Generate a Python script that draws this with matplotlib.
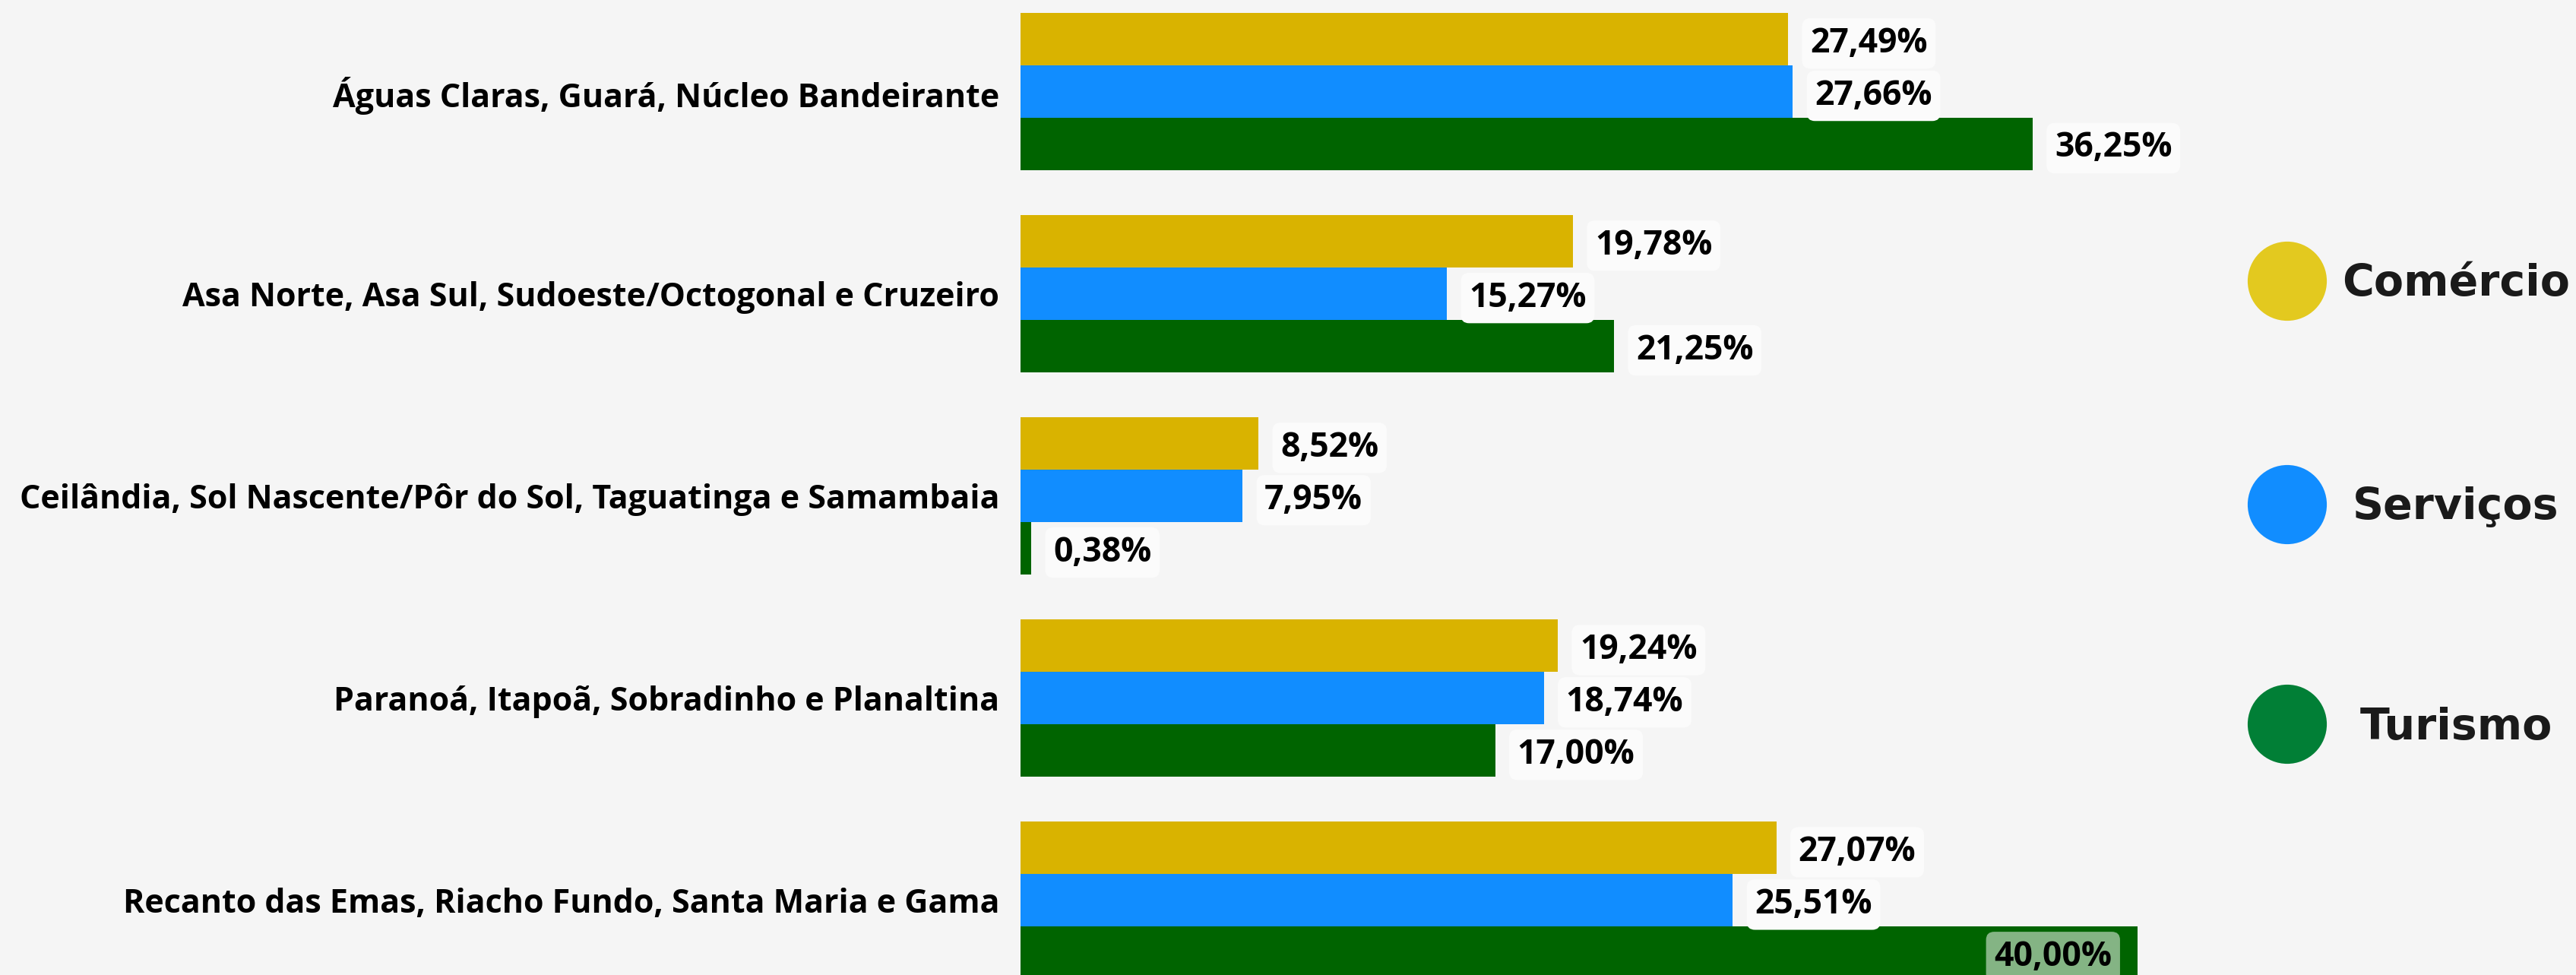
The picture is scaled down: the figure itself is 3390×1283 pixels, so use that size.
import numpy as np
import matplotlib
matplotlib.use("Agg")
import matplotlib.pyplot as plt

# dados
categorias = [
    "Águas Claras, Guará, Núcleo Bandeirante",
    "Asa Norte, Asa Sul, Sudoeste/Octogonal e Cruzeiro",
    "Ceilândia, Sol Nascente/Pôr do Sol, Taguatinga e Samambaia",
    "Paranoá, Itapoã, Sobradinho e Planaltina",
    "Recanto das Emas, Riacho Fundo, Santa Maria e Gama",
]
series = ["Comércio", "Serviços", "Turismo"]
comercio = [27.49, 19.78, 8.52, 19.24, 27.07]
servicos = [27.66, 15.27, 7.95, 18.74, 25.51]
turismo = [36.25, 21.25, 0.38, 17.00, 40.00]

cores_barra = ["#D9B300", "#118DFF", "#006400"]
cores_legenda = ["#E3C91F", "#118DFF", "#017F36"]
fundo = "#F5F5F5"

W, H = 3391, 1283
fig = plt.figure(figsize=(W / 100, H / 100), dpi=100, facecolor=fundo)

# eixo principal: x=0 no pixel 1343, 36.74 px por ponto percentual
x0, x1 = 1343, 2900
ax = fig.add_axes([x0 / W, 0, (x1 - x0) / W, 1])
ax.set_facecolor(fundo)
ax.set_xlim(0, (x1 - x0) / 36.74)
ax.set_ylim(4.369, -0.453)

altura = 0.259
y = np.arange(len(categorias))
valores = [comercio, servicos, turismo]

for i, (vals, cor) in enumerate(zip(valores, cores_barra)):
    ys = y + (i - 1) * altura
    ax.barh(ys, vals, height=altura, color=cor, edgecolor="none")
    for yy, v in zip(ys, vals):
        txt = f"{v:.2f}".replace(".", ",") + "%"
        if v > 38:
            # rótulo dentro da barra quando não cabe fora
            ax.annotate(txt, (v, yy), xytext=(-24, -4), textcoords="offset points",
                        ha="right", va="center", fontsize=32, fontweight="bold",
                        family="Open Sans", color="black",
                        bbox=dict(boxstyle="round,pad=0.24", fc="white", ec="none", alpha=0.52))
        else:
            ax.annotate(txt, (v, yy), xytext=(21, -4), textcoords="offset points",
                        ha="left", va="center", fontsize=32, fontweight="bold",
                        family="Open Sans", color="black",
                        bbox=dict(boxstyle="round,pad=0.24", fc="#FBFBFB", ec="none"))

ax.set_yticks(y)
ax.set_yticklabels(categorias, fontsize=31, fontweight="bold", family="Open Sans")
ax.tick_params(axis="y", length=0, pad=20)
ax.set_xticks([])
for s in ax.spines.values():
    s.set_visible(False)

# legenda
lg = fig.add_axes([0, 0, 1, 1])
lg.set_xlim(0, W)
lg.set_ylim(H, 0)
lg.axis("off")
ly = [370, 664, 953]
lg.scatter([3010] * 3, ly, s=75 ** 2, c=cores_legenda, edgecolors="none")
for nome, yy in zip(series, ly):
    lg.text(3232, yy + 4, nome, ha="center", va="center", fontsize=41,
            fontweight="bold", family="DejaVu Sans", color="#1A1A1A")

fig.savefig("out.png", dpi=100, facecolor=fundo)
